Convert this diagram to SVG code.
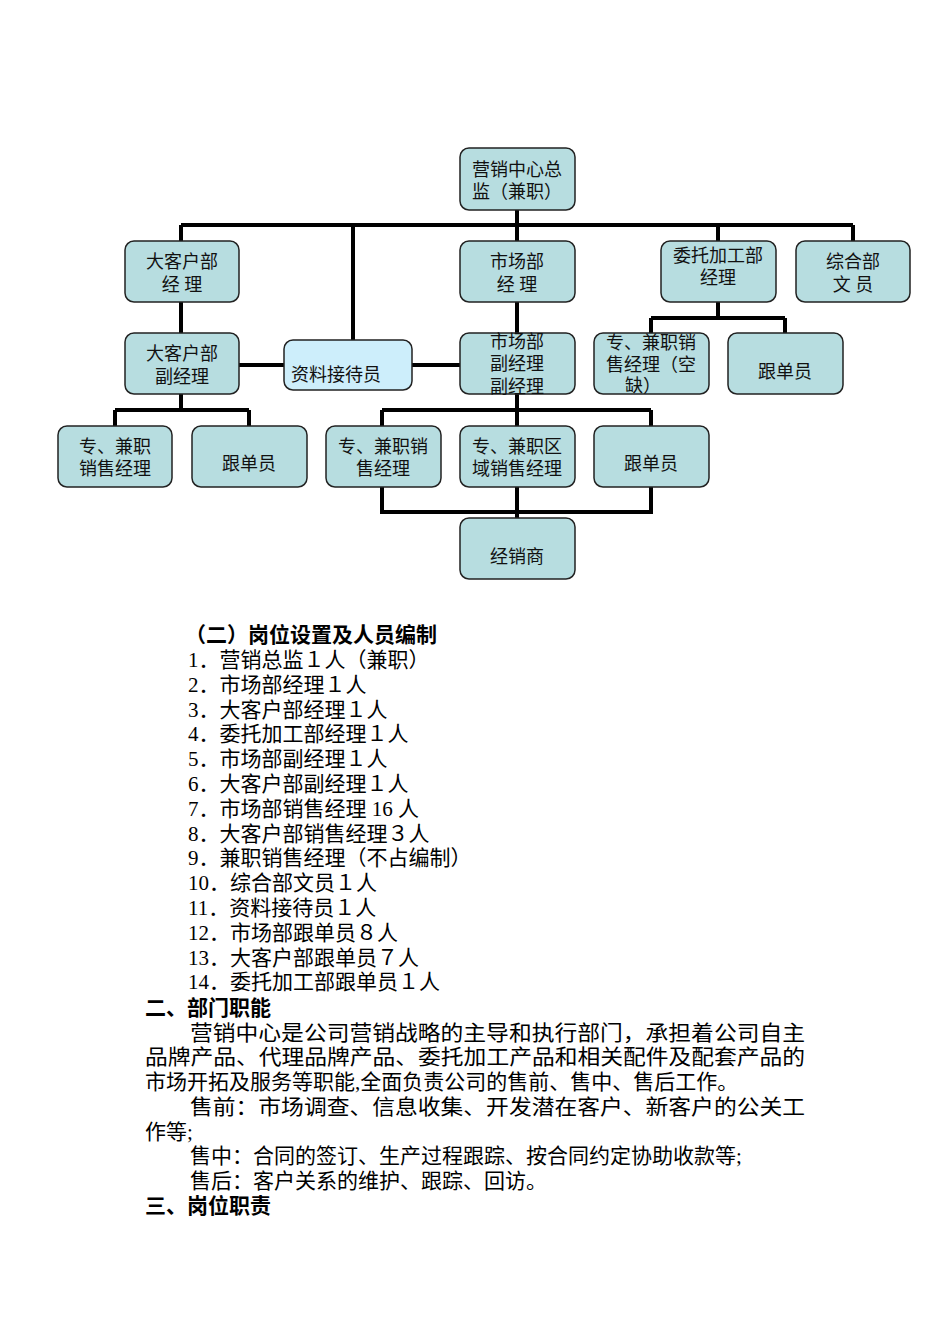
<svg xmlns="http://www.w3.org/2000/svg" width="950" height="1344" viewBox="0 0 950 1344">
<style>
.n{fill:#b7dde0;stroke:#222;stroke-width:1.5}
.c{fill:none;stroke:#000;stroke-width:4}
.t{font-family:"Liberation Serif","Noto Sans CJK SC",serif;font-size:18px;fill:#111;text-anchor:middle}
.b{font-family:"Liberation Serif","Noto Sans CJK SC",serif;font-size:21px;fill:#000}
.bb{font-family:"Liberation Serif","Noto Sans CJK SC",serif;font-size:21px;font-weight:bold;fill:#000}
</style>
<rect width="950" height="1344" fill="#fff"/>
<g id="connectors">
<path class="c" d="M517 210V225M181 225H853M181 225V241M353 225V340M517 225V241M718 225V241M853 225V241"/>
<path class="c" d="M181 302V333M517 302V333M239 365H284M412 365H460"/>
<path class="c" d="M718 302V318M651 318H785M651 318V333M785 318V333"/>
<path class="c" d="M181 394V410M115 410H249M115 410V426M249 410V426"/>
<path class="c" d="M517 394V410M382 410H651M382 410V426M517 410V426M651 410V426"/>
<path class="c" d="M382 487V512H651V487M517 487V518"/>
</g>
<g id="n1"><rect class="n" x="460" y="148" width="115" height="62" rx="9"/><text class="t" x="517" y="176">营销中心总</text><text class="t" x="517" y="198">监（兼职）</text></g>
<g id="n2"><rect class="n" x="125" y="241" width="114" height="61" rx="9"/><text class="t" x="182" y="268">大客户部</text><text class="t" x="182" y="291">经 理</text></g>
<g id="n3"><rect class="n" x="460" y="241" width="115" height="61" rx="9"/><text class="t" x="517" y="268">市场部</text><text class="t" x="517" y="291">经 理</text></g>
<g id="n4"><rect class="n" x="661" y="241" width="115" height="61" rx="9"/><text class="t" x="718" y="262">委托加工部</text><text class="t" x="718" y="284">经理</text></g>
<g id="n5"><rect class="n" x="796" y="241" width="114" height="61" rx="9"/><text class="t" x="853" y="268">综合部</text><text class="t" x="853" y="291">文 员</text></g>
<g id="n6"><rect class="n" x="125" y="333" width="114" height="61" rx="9"/><text class="t" x="182" y="360">大客户部</text><text class="t" x="182" y="383">副经理</text></g>
<g id="n7"><rect x="284" y="340" width="128" height="50" rx="9" fill="#cdeefb" stroke="#222" stroke-width="1.5"/><text class="t" x="336" y="381">资料接待员</text></g>
<g id="n8"><rect class="n" x="460" y="333" width="115" height="61" rx="9"/><text class="t" x="517" y="348">市场部</text><text class="t" x="517" y="370">副经理</text><text class="t" x="517" y="393">副经理</text></g>
<g id="n9"><rect class="n" x="594" y="333" width="115" height="61" rx="9"/><text class="t" x="651" y="349">专、兼职销</text><text class="t" x="651" y="371">售经理（空</text><text class="t" x="643" y="392">缺）</text></g>
<g id="n10"><rect class="n" x="728" y="333" width="115" height="61" rx="9"/><text class="t" x="785" y="378">跟单员</text></g>
<g id="n11"><rect class="n" x="58" y="426" width="114" height="61" rx="9"/><text class="t" x="115" y="453">专、兼职</text><text class="t" x="115" y="475">销售经理</text></g>
<g id="n12"><rect class="n" x="192" y="426" width="115" height="61" rx="9"/><text class="t" x="249" y="470">跟单员</text></g>
<g id="n13"><rect class="n" x="326" y="426" width="115" height="61" rx="9"/><text class="t" x="383" y="453">专、兼职销</text><text class="t" x="383" y="475">售经理</text></g>
<g id="n14"><rect class="n" x="460" y="426" width="115" height="61" rx="9"/><text class="t" x="517" y="453">专、兼职区</text><text class="t" x="517" y="475">域销售经理</text></g>
<g id="n15"><rect class="n" x="594" y="426" width="115" height="61" rx="9"/><text class="t" x="651" y="470">跟单员</text></g>
<g id="n16"><rect class="n" x="460" y="518" width="115" height="61" rx="9"/><text class="t" x="517" y="563">经销商</text></g>
<g id="text">
<text class="bb" x="185" y="642">（二）岗位设置及人员编制</text>
<text class="b" x="188" y="667">1．营销总监１人（兼职）</text>
<text class="b" x="188" y="692">2．市场部经理１人</text>
<text class="b" x="188" y="717">3．大客户部经理１人</text>
<text class="b" x="188" y="741">4．委托加工部经理１人</text>
<text class="b" x="188" y="766">5．市场部副经理１人</text>
<text class="b" x="188" y="791">6．大客户部副经理１人</text>
<text class="b" x="188" y="816">7．市场部销售经理 16 人</text>
<text class="b" x="188" y="841">8．大客户部销售经理３人</text>
<text class="b" x="188" y="865">9．兼职销售经理（不占编制）</text>
<text class="b" x="188" y="890">10．综合部文员１人</text>
<text class="b" x="188" y="915">11．资料接待员１人</text>
<text class="b" x="188" y="940">12．市场部跟单员８人</text>
<text class="b" x="188" y="965">13．大客户部跟单员７人</text>
<text class="b" x="188" y="989">14．委托加工部跟单员１人</text>
<text class="bb" x="145" y="1015">二、部门职能</text>
<text class="b" x="190" y="1040" textLength="615" lengthAdjust="spacingAndGlyphs">营销中心是公司营销战略的主导和执行部门，承担着公司自主</text>
<text class="b" x="145" y="1064" textLength="660" lengthAdjust="spacingAndGlyphs">品牌产品、代理品牌产品、委托加工产品和相关配件及配套产品的</text>
<text class="b" x="145" y="1089">市场开拓及服务等职能,全面负责公司的售前、售中、售后工作。</text>
<text class="b" x="190" y="1114" textLength="615" lengthAdjust="spacingAndGlyphs">售前：市场调查、信息收集、开发潜在客户、新客户的公关工</text>
<text class="b" x="145" y="1139">作等;</text>
<text class="b" x="190" y="1163">售中：合同的签订、生产过程跟踪、按合同约定协助收款等;</text>
<text class="b" x="190" y="1188">售后：客户关系的维护、跟踪、回访。</text>
<text class="bb" x="145" y="1213">三、岗位职责</text>
</g>
</svg>
